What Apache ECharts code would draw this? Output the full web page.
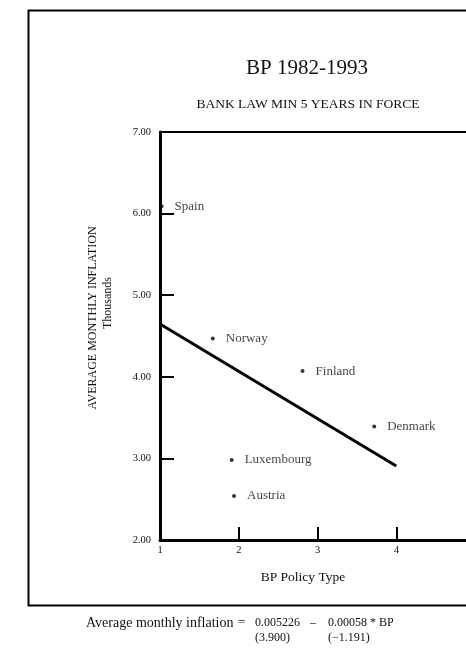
<!DOCTYPE html>
<html>
<head>
<meta charset="utf-8">
<script src="https://cdn.jsdelivr.net/npm/echarts@6/dist/echarts.min.js"></script>
<style>html,body{margin:0;padding:0;background:#fff}#c{width:466px;height:654px}</style>
</head>
<body>
<div id="c"></div>
<script>
var countries = ["Spain", "Norway", "Finland", "Denmark", "Luxembourg", "Austria"];
var bpValues = [1.02, 1.67, 2.81, 3.72, 1.91, 1.94];
var inflationValues = [6.09, 4.47, 4.07, 3.39, 2.98, 2.54];
var fitX = [1, 4];
var fitY = [4.646, 2.906];
var xTicks = ["1", "2", "3", "4"];
var yTicks = ["2.00", "3.00", "4.00", "5.00", "6.00", "7.00"];

var F = '"Liberation Serif", "DejaVu Serif", serif';
var chart = echarts.init(document.getElementById('c'), null, {renderer: 'canvas'});
var pts = countries.map(function (n, i) { return {name: n, value: [bpValues[i], inflationValues[i]]}; });
var fit = fitX.map(function (x, i) { return [x, fitY[i]]; });

function t(x, y, s, size, extra) {
  var st = {text: s, fontFamily: F, fontSize: size, fill: '#111', textVerticalAlign: 'middle'};
  if (extra) { for (var k in extra) st[k] = extra[k]; }
  return {type: 'text', x: x, y: y, style: st};
}

chart.setOption({
  animation: false,
  backgroundColor: '#fff',
  title: [
    {text: 'BP 1982-1993', left: 302, top: 53, textAlign: 'center',
     textStyle: {fontFamily: F, fontSize: 21, fontWeight: 'normal', color: '#111'}},
    {text: 'BANK LAW MIN 5 YEARS IN FORCE', left: 303, top: 92, textAlign: 'center',
     textStyle: {fontFamily: F, fontSize: 13.5, fontWeight: 'normal', color: '#111'}}
  ],
  grid: {left: 160, top: 132, bottom: 114, right: -9, outerBoundsMode: 'none',
         show: true, borderColor: '#000', borderWidth: 2, backgroundColor: 'transparent'},
  xAxis: {
    type: 'value', min: 1, max: 5, interval: 1,
    axisLine: {show: true, lineStyle: {color: '#000', width: 3}},
    axisTick: {show: true, inside: true, length: 13, lineStyle: {color: '#000', width: 2}},
    splitLine: {show: false},
    axisLabel: {fontFamily: F, fontSize: 10.5, color: '#111', margin: 5,
      formatter: function (v) { var i = Math.round(v) - 1; return xTicks[i] !== undefined ? xTicks[i] : ''; }}
  },
  yAxis: {
    type: 'value', min: 2, max: 7, interval: 1,
    axisLine: {show: true, lineStyle: {color: '#000', width: 3}},
    axisTick: {show: true, inside: true, length: 14, lineStyle: {color: '#000', width: 2}},
    splitLine: {show: false},
    axisLabel: {fontFamily: F, fontSize: 10.5, color: '#111', margin: 9,
      formatter: function (v) { var i = Math.round(v) - 2; return yTicks[i] !== undefined ? yTicks[i] : ''; }}
  },
  series: [
    {type: 'line', data: fit, showSymbol: false, symbol: 'none',
     lineStyle: {color: '#000', width: 3}, z: 3},
    {type: 'scatter', data: pts, symbol: 'circle', symbolSize: 4,
     itemStyle: {color: '#000'},
     label: {show: true, position: 'right', distance: 11, formatter: '{b}',
       fontFamily: F, fontSize: 13, color: '#111'}, z: 4}
  ],
  graphic: [
    {type: 'rect', left: 26, top: 8, shape: {x: 0, y: 0, width: 460, height: 595},
     style: {fill: 'none', stroke: '#000', lineWidth: 2}, z: -1},
    {type: 'text', x: 93, y: 318, rotation: Math.PI / 2,
     style: {text: 'AVERAGE MONTHLY INFLATION', fontFamily: F, fontSize: 12, fill: '#111', textAlign: 'center', textVerticalAlign: 'middle'}},
    {type: 'text', x: 108, y: 303, rotation: Math.PI / 2,
     style: {text: 'Thousands', fontFamily: F, fontSize: 12, fill: '#111', textAlign: 'center', textVerticalAlign: 'middle'}},
    t(303, 577, 'BP Policy Type', 13.5, {textAlign: 'center'}),
    t(86, 623, 'Average monthly inflation', 14),
    t(238, 623, '=', 13),
    t(255, 623, '0.005226', 12),
    t(310, 623, '\u2013', 12),
    t(328, 623, '0.00058 * BP', 12),
    t(255, 638, '(3.900)', 12),
    t(328, 638, '(\u22121.191)', 12)
  ]
});
</script>
</body>
</html>
